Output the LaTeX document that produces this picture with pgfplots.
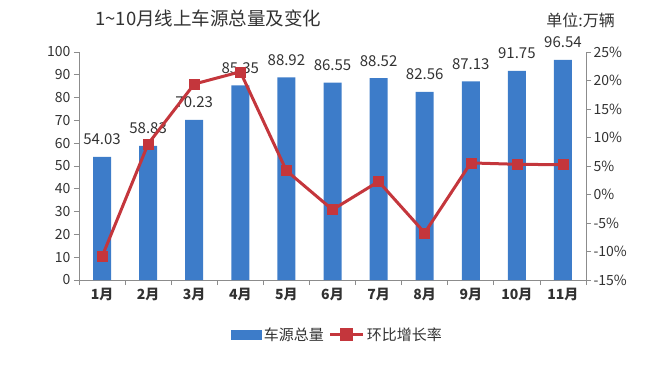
\documentclass[border=0pt]{standalone}
\usepackage{pgfplots}
\pgfplotsset{compat=1.18}
\usepackage{fontspec}
\setmainfont{Noto Sans CJK SC}
\definecolor{barblue}{RGB}{61,124,201}
\definecolor{linered}{RGB}{196,54,60}
\definecolor{axgray}{RGB}{140,140,140}
\definecolor{txt}{RGB}{50,50,50}
\begin{document}
\begin{tikzpicture}
\useasboundingbox (-79pt,-89pt) rectangle (587pt,280pt);
\begin{axis}[
  at={(0pt,0pt)}, anchor=south west,
  scale only axis, width=507pt, height=228pt,
  xmin=-0.5, xmax=10.5, ymin=0, ymax=100,
  axis y line*=left, axis x line*=bottom,
  axis line style={draw=axgray, line width=0.8pt},
  tick style={draw=axgray, line width=0.8pt},
  tick align=outside, major tick length=5pt,
  xtick={-0.5,0.5,...,10.5},
  xticklabels={1月,2月,3月,4月,5月,6月,7月,8月,9月,10月,11月,{}},
  x tick label style={xshift=23.05pt, font=\fontsize{14}{14}\selectfont\bfseries, text=txt},
  ytick={0,10,...,100},
  y tick label style={font=\fontsize{14}{14}\selectfont, text=txt},
  /pgf/number format/assume math mode=true,
  ybar, bar width=18pt,
  nodes near coords,
  nodes near coords style={font=\fontsize{15}{15}\selectfont, text=txt},
  every node near coord/.append style={anchor=base, yshift=12pt, inner sep=0pt,
    /pgf/number format/fixed, /pgf/number format/fixed zerofill, /pgf/number format/precision=2},
]
\addplot[fill=barblue, draw=none] coordinates {
(0,54.03) (1,58.83) (2,70.23) (3,85.35) (4,88.92) (5,86.55) (6,88.52) (7,82.56) (8,87.13) (9,91.75) (10,96.54)};
\end{axis}
\begin{axis}[
  at={(0pt,0pt)}, anchor=south west,
  scale only axis, width=507pt, height=228pt,
  xmin=-0.5, xmax=10.5, ymin=-15, ymax=25,
  axis y line*=right, axis x line=none,
  axis line style={draw=axgray, line width=0.8pt},
  tick style={draw=axgray, line width=0.8pt},
  tick align=outside, major tick length=5pt,
  ytick={-15,-10,...,25},
  yticklabel={\pgfmathprintnumber{\tick}\%},
  y tick label style={font=\fontsize{14}{14}\selectfont, text=txt, xshift=-1pt},
  /pgf/number format/assume math mode=true,
  clip=false,
  legend style={at={(0.51,-0.241)}, anchor=center, draw=none, fill=none,
    legend columns=2, font=\fontsize{15}{15}\selectfont, text=txt,
    /tikz/every even column/.append style={column sep=3pt},
    nodes={inner sep=2pt}},
  legend cell align=left,
]
\addlegendimage{legend image code/.code={\fill[barblue] (0pt,-4.5pt) rectangle (30pt,4.5pt);}}
\addlegendentry{车源总量}
\addplot[color=linered, line width=3pt, mark=square*, mark size=5pt,
  mark options={fill=linered, line width=0.5pt},
  legend image code/.code={\draw[linered, line width=3pt] (0pt,0pt) -- (33pt,0pt); \fill[linered] (11.5pt,-5pt) rectangle (21.5pt,5pt);}]
coordinates {
(0,-10.9) (1,8.88) (2,19.38) (3,21.53) (4,4.18) (5,-2.67) (6,2.28) (7,-6.73) (8,5.54) (9,5.30) (10,5.22)};
\addlegendentry{环比增长率}
\end{axis}
\node[anchor=west, font=\fontsize{18.5}{18.5}\selectfont, text=txt, inner sep=0pt] at (16pt,262pt) {1\textasciitilde10月线上车源总量及变化};
\node[anchor=east, font=\fontsize{16}{16}\selectfont, text=txt, inner sep=0pt] at (536pt,260pt) {单位:万辆};
\end{tikzpicture}
\end{document}
